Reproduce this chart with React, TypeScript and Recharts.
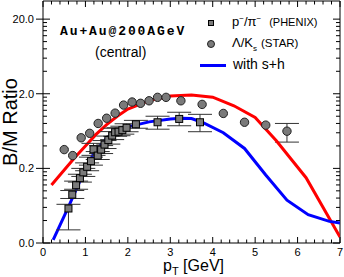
import {
  ComposedChart,
  Scatter,
  Line,
  XAxis,
  YAxis,
  ErrorBar,
  ReferenceArea,
} from "recharts";

document.body.style.margin = "0";

// p-/pi- (PHENIX)
const phenixPt = [0.6, 0.69, 0.78, 0.87, 0.95, 1.04, 1.13, 1.19, 1.29, 1.37, 1.45, 1.54, 1.63, 1.7, 1.78, 1.87, 1.97, 2.19, 2.7, 3.21, 3.7];
const phenixRatio = [0.058, 0.089, 0.119, 0.148, 0.177, 0.21, 0.25, 0.36, 0.297, 0.357, 0.417, 0.479, 0.55, 0.61, 0.62, 0.65, 0.7, 0.78, 0.83, 0.92, 0.83];
const phenixErrLow = [0.028, 0.01, 0.014, 0.017, 0.021, 0.024, 0.029, 0.061, 0.034, 0.041, 0.048, 0.056, 0.064, 0.071, 0.072, 0.075, 0.081, 0.09, 0.16, 0.175, 0.21];
const phenixErrHigh = [0.008, 0.012, 0.016, 0.019, 0.023, 0.027, 0.033, 0.073, 0.039, 0.047, 0.055, 0.063, 0.072, 0.08, 0.081, 0.085, 0.092, 0.1, 0.17, 0.21, 0.23];

// Lambda/Ks (STAR)
const starPt = [0.5, 0.7, 0.9, 1.1, 1.3, 1.5, 1.7, 1.9, 2.1, 2.3, 2.5, 2.7, 2.9, 3.25, 3.75, 4.25, 4.75, 5.25, 5.75];
const starRatio = [0.357, 0.297, 0.514, 0.59, 0.8, 0.94, 1.1, 1.41, 1.55, 1.49, 1.61, 1.79, 1.79, 1.61, 1.44, 1.09, 0.83, 0.76, 0.63];
const starErrLow = [0, 0, 0, 0, 0, 0, 0, 0, 0, 0, 0, 0, 0, 0, 0, 0, 0, 0, 0.18];
const starErrHigh = [0, 0, 0, 0, 0, 0, 0, 0, 0, 0, 0, 0, 0, 0, 0, 0, 0, 0, 0.17];

// model curves
const redPt = [0.2, 0.5, 0.75, 1.0, 1.25, 1.5, 1.75, 2.0, 2.5, 3.0, 3.5, 4.0, 4.5, 5.0, 5.5, 6.2, 7.0];
const redRatio = [0.12, 0.19, 0.28, 0.4, 0.57, 0.77, 1.0, 1.25, 1.62, 1.87, 1.93, 1.8, 1.38, 0.96, 0.47, 0.15, 0.024];
const bluePt = [0.24, 0.6, 0.95, 1.2, 1.5, 1.75, 2.0, 2.5, 3.0, 3.25, 3.5, 3.75, 4.25, 4.75, 5.25, 5.75, 6.25, 6.75, 7.0];
const blueRatio = [0.022, 0.061, 0.17, 0.32, 0.51, 0.63, 0.72, 0.84, 0.92, 0.94, 0.93, 0.83, 0.6, 0.37, 0.163, 0.075, 0.048, 0.039, 0.037];

const xTicks = [0, 0.2, 0.4, 0.6, 0.8, 1, 1.2, 1.4, 1.6, 1.8, 2, 2.2, 2.4, 2.6, 2.8, 3, 3.2, 3.4, 3.6, 3.8, 4, 4.2, 4.4, 4.6, 4.8, 5, 5.2, 5.4, 5.6, 5.8, 6, 6.2, 6.4, 6.6, 6.8, 7];
const yTicks = [
  0.02, 0.04, 0.06, 0.08, 0.1, 0.12, 0.14, 0.16, 0.18,
  0.2, 0.4, 0.6, 0.8, 1, 1.2, 1.4, 1.6, 1.8,
  2, 4, 6, 8, 10, 12, 14, 16, 18,
  20,
];
const yMajor = [0.02, 0.2, 2, 20];

const W = 344;
const H = 277;
const PLOT_W = 297;
const PLOT_H = 242;
const FONT = "'Liberation Sans', Arial, sans-serif";

const phenixData = phenixPt.map((x, i) => ({
  x,
  y: phenixRatio[i],
  err: [phenixErrLow[i], phenixErrHigh[i]],
}));
const starData = starPt.map((x, i) => ({
  x,
  y: starRatio[i],
  err: [starErrLow[i], starErrHigh[i]],
}));
// only points that carry a visible error bar
const starErrData = starData.filter((d) => d.err[0] > 0 || d.err[1] > 0);
const redData = redPt.map((x, i) => ({ x, y: redRatio[i] }));
const blueData = bluePt.map((x, i) => ({ x, y: blueRatio[i] }));

function XTick(props: any) {
  const { x, y, payload } = props;
  const v = payload.value;
  const major = Math.abs(v - Math.round(v)) < 1e-6;
  const len = major ? 6 : 3.5;
  return (
    <g>
      <line x1={x} x2={x} y1={y} y2={y - len} stroke="#000" />
      <line x1={x} x2={x} y1={y - PLOT_H} y2={y - PLOT_H + len} stroke="#000" />
      {major && (
        <text x={x} y={y + 13} textAnchor="middle" fontSize={11} fontFamily={FONT} fill="#000">
          {Math.round(v)}
        </text>
      )}
    </g>
  );
}

function YTick(props: any) {
  const { x, y, payload } = props;
  const v = payload.value;
  const major = yMajor.some((m) => Math.abs(m - v) < 1e-9);
  const len = major ? 7 : 4;
  return (
    <g>
      <line x1={major ? x - 7 : x} x2={x + len} y1={y} y2={y} stroke="#000" />
      <line x1={x + PLOT_W - len} x2={x + PLOT_W} y1={y} y2={y} stroke="#000" />
      {major && (
        <text x={x - 9} y={y + 4} textAnchor="end" fontSize={11} fontFamily={FONT} fill="#000">
          {v.toFixed(1)}
        </text>
      )}
    </g>
  );
}

const squareShape = (p: any) => (
  <rect x={p.cx - 3.5} y={p.cy - 3.5} width={7} height={7} fill="#7a7a7a" stroke="#000" strokeWidth={1} />
);
const circleShape = (p: any) => (
  <circle cx={p.cx} cy={p.cy} r={4.2} fill="#7a7a7a" stroke="#222" strokeWidth={1} />
);
const noShape = () => <g />;

export default function App() {
  return (
    <div style={{ position: "relative", width: W, height: H, fontFamily: FONT, color: "#000" }}>
      <ComposedChart width={W} height={H} margin={{ top: 1, right: 4, bottom: 0, left: 0 }}>
        <XAxis
          dataKey="x"
          type="number"
          domain={[0, 7]}
          ticks={xTicks}
          interval={0}
          allowDataOverflow
          height={34}
          tickSize={0}
          tickMargin={0}
          tickLine={false}
          axisLine={false}
          tick={<XTick />}
        />
        <YAxis
          dataKey="y"
          type="number"
          scale="log"
          domain={[0.02, 35]}
          ticks={yTicks}
          interval={0}
          allowDataOverflow
          width={43}
          tickSize={0}
          tickMargin={0}
          tickLine={false}
          axisLine={false}
          tick={<YTick />}
        />
        <Scatter data={starErrData} shape={noShape} isAnimationActive={false}>
          <ErrorBar dataKey="err" direction="y" width={12} stroke="#333" strokeWidth={1} />
        </Scatter>
        <Scatter data={starData} shape={circleShape} isAnimationActive={false} />
        <Line
          data={redData}
          dataKey="y"
          type="linear"
          stroke="#ff0000"
          strokeWidth={3}
          dot={false}
          isAnimationActive={false}
        />
        <Line
          data={blueData}
          dataKey="y"
          type="linear"
          stroke="#0000ff"
          strokeWidth={3}
          dot={false}
          isAnimationActive={false}
        />
        <Scatter data={phenixData} shape={squareShape} isAnimationActive={false}>
          <ErrorBar dataKey="err" direction="y" width={12} stroke="#333" strokeWidth={1} />
        </Scatter>
        <ReferenceArea x1={0} x2={7} y1={0.02} y2={35} fill="none" stroke="#000" strokeWidth={1} ifOverflow="visible" />
      </ComposedChart>

      <div style={{ position: "absolute", left: 60, top: 24, fontFamily: "'Liberation Mono', monospace", fontWeight: "bold", fontSize: 13, letterSpacing: 1.9, whiteSpace: "nowrap" }}>
        Au+Au@200AGeV
      </div>
      <div style={{ position: "absolute", left: 95, top: 44, fontSize: 14, whiteSpace: "nowrap" }}>(central)</div>

      <div style={{ position: "absolute", left: 208, top: 20, width: 6, height: 6, background: "#7a7a7a", border: "1px solid #000", boxSizing: "border-box" }} />
      <div style={{ position: "absolute", left: 232, top: 14, fontSize: 13, whiteSpace: "nowrap" }}>
        p<sup style={{ fontSize: 8 }}>−</sup>/π<sup style={{ fontSize: 8 }}>−</sup>
        <span style={{ fontSize: 11, marginLeft: 8 }}>(PHENIX)</span>
      </div>

      <div style={{ position: "absolute", left: 207, top: 40, width: 8, height: 8, borderRadius: "50%", background: "#7a7a7a", border: "1px solid #222", boxSizing: "border-box" }} />
      <div style={{ position: "absolute", left: 232, top: 35, fontSize: 13, whiteSpace: "nowrap" }}>
        Λ/K<sub style={{ fontSize: 8 }}>s</sub>
        <span style={{ fontSize: 11.5, marginLeft: 4 }}>(STAR)</span>
      </div>

      <div style={{ position: "absolute", left: 200, top: 64, width: 26, height: 3, background: "#0000ff" }} />
      <div style={{ position: "absolute", left: 233, top: 56, fontSize: 14, whiteSpace: "nowrap" }}>with s+h</div>

      <div
        style={{
          position: "absolute",
          left: 10,
          top: 122,
          fontSize: 20,
          lineHeight: 1,
          whiteSpace: "nowrap",
          transform: "translate(-50%, -50%) rotate(-90deg)",
        }}
      >
        B/M Ratio
      </div>
      <div style={{ position: "absolute", left: 163, top: 258, fontSize: 16, lineHeight: 1, whiteSpace: "nowrap" }}>
        p<sub style={{ fontSize: 11, lineHeight: 1 }}>T</sub> [GeV]
      </div>
    </div>
  );
}
